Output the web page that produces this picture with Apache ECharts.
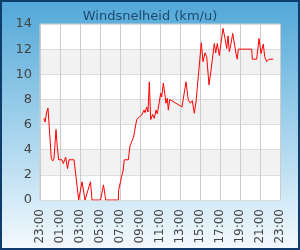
<!DOCTYPE html>
<html>
<head>
<meta charset="utf-8">
<script src="https://cdn.jsdelivr.net/npm/echarts@6/dist/echarts.min.js"></script>
<style>
  html, body { margin: 0; padding: 0; }
  #chart { width: 300px; height: 250px; box-sizing: border-box; border: 2px solid #0e3d6b; }
</style>
</head>
<body>
<div id="chart"></div>
<script>
// tick labels: one per 2 hours, starting at 23:00
const tickLabels = ['23:00', '01:00', '03:00', '05:00', '07:00', '09:00', '11:00',
  '13:00', '15:00', '17:00', '19:00', '21:00', '23:00']

// hours since 23:00
const hours = [
  0.4, 0.5, 0.67, 0.8, 1.13, 1.27, 1.4, 1.6, 1.73, 1.87, 2.2, 2.33, 2.57, 2.75, 2.9, 3.4,
  3.87, 4.2, 4.5, 4.65, 5.05, 5.2, 6.05, 6.35, 6.57, 7.83, 7.87, 8.17, 8.3, 8.43, 8.83,
  9.0, 9.17, 9.35, 9.67, 9.93, 10.17, 10.4, 10.5, 10.67, 10.8, 10.93, 11.07, 11.27, 11.43,
  11.6, 11.73, 11.93, 12.07, 12.17, 12.33, 12.47, 12.6, 12.73, 12.83, 12.97, 14.2, 14.6,
  14.83, 15.03, 15.23, 15.43, 15.6, 16.13, 16.3, 16.5, 16.67, 16.9, 17.1, 17.23, 17.43,
  17.57, 17.73, 17.93, 18.3, 18.5, 18.67, 18.8, 18.93, 19.1, 19.27, 19.4, 19.6, 19.73,
  19.83, 21.17, 21.23, 21.67, 21.9, 22.1, 22.33, 22.47, 22.67, 22.9, 23.33
]

// windsnelheid in km/u
const speed = [
  6.5, 6.2, 7.0, 7.3, 3.3, 3.1, 3.3, 5.6, 4.2, 3.2, 3.2, 2.9, 3.4, 2.5, 3.2, 3.2,
  0, 1.45, 0, 0, 1.45, 0, 0, 1.2, 0, 0, 0.8, 1.9, 2.3, 3.2, 3.2,
  4.3, 4.2, 5.0, 6.4, 6.6, 6.75, 7.15, 6.95, 7.4, 7.0, 9.4, 6.4, 6.8, 6.5,
  7.15, 6.85, 7.8, 8.5, 8.2, 9.3, 8.5, 7.7, 8.1, 7.15, 8.0, 7.4, 9.4,
  7.95, 7.7, 7.9, 6.9, 7.8, 12.5, 11.0, 11.7, 11.4, 9.15, 10.3, 10.2, 12.45,
  11.7, 12.45, 11.5, 13.65, 12.85, 12.05, 13.05, 11.8, 12.45, 13.25, 13.1, 11.65, 11.2,
  12.0, 12.0, 11.2, 11.2, 12.85, 11.65, 12.4, 11.4, 11.0, 11.2, 11.2
]

const chart = echarts.init(document.getElementById('chart'), null, { renderer: 'canvas' })

const option = {
  animation: false,
  backgroundColor: new echarts.graphic.LinearGradient(0, 0, 0, 1, [
    { offset: 0, color: '#52a8d8' },
    { offset: 0.55, color: '#a9d5ed' },
    { offset: 1, color: '#f3f9fd' }
  ]),
  title: {
    text: 'Windsnelheid (km/u)',
    left: 'center',
    top: 3,
    textStyle: { fontFamily: 'DejaVu Sans', fontSize: 13, fontWeight: 'normal', color: '#1c4b72' }
  },
  grid: {
    left: 38, right: 18, top: 22, bottom: 48,
    show: true, backgroundColor: '#ffffff', borderColor: '#cccccc', borderWidth: 1
  },
  xAxis: {
    type: 'value',
    min: 0, max: 24, interval: 2,
    axisLine: { show: false },
    axisTick: { show: false },
    splitLine: { show: true, lineStyle: { color: '#cccccc' } },
    axisLabel: {
      rotate: 90, margin: 9,
      fontFamily: 'DejaVu Sans', fontSize: 12, color: '#444444',
      formatter: v => tickLabels[Math.round(v / 2)]
    }
  },
  yAxis: {
    type: 'value',
    min: 0, max: 14, interval: 2,
    axisLine: { show: false },
    axisTick: { show: false },
    splitLine: { show: true, lineStyle: { color: '#dddddd' } },
    splitArea: { show: true, areaStyle: { color: ['#ffffff', '#f2f2f2'] } },
    axisLabel: { margin: 8, fontFamily: 'DejaVu Sans', fontSize: 13, color: '#444444' }
  },
  series: [{
    type: 'line',
    data: hours.map((h, i) => [h, speed[i]]),
    showSymbol: false,
    lineStyle: { color: '#ff0000', width: 1 }
  }]
}

chart.setOption(option)
</script>
</body>
</html>
